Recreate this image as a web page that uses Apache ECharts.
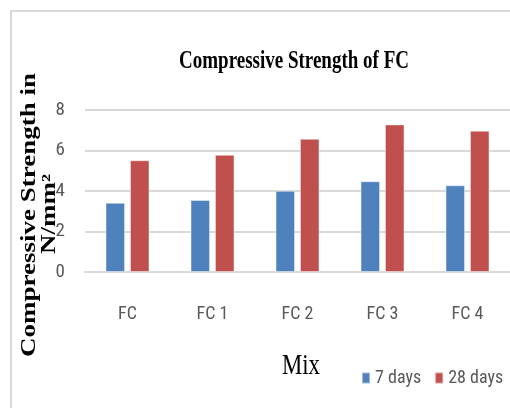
<!DOCTYPE html>
<html>
<head>
<meta charset="utf-8">
<script src="https://cdn.jsdelivr.net/npm/echarts@6/dist/echarts.min.js"></script>
<style>html,body{margin:0;padding:0;background:#fff;}#c{width:510px;height:408px;}</style>
</head>
<body>
<div id="c"></div>
<script>
const categories = ['FC', 'FC 1', 'FC 2', 'FC 3', 'FC 4'];
const days7 = [3.42, 3.56, 4.01, 4.48, 4.28];
const days28 = [5.52, 5.79, 6.58, 7.29, 6.98];
const seriesNames = ['7 days', '28 days'];
const yTicks = { min: 0, max: 8, interval: 2 };
const titleText = 'Compressive Strength of FC';
const yNameLine1 = 'Compressive Strength in';
const yNameLine2 = 'N/mm\u00B2';
const xName = 'Mix';

const narrow = "'Roboto Condensed', Roboto, sans-serif";
const serif = "'Liberation Serif', 'Times New Roman', serif";
const chart = echarts.init(document.getElementById('c'), null, { renderer: 'canvas' });
chart.setOption({
  animation: false,
  backgroundColor: '#fff',
  grid: { left: 85, right: 0, top: 110, bottom: 136, containLabel: false },
  legend: {
    data: seriesNames,
    left: 361, top: 369, width: 170, padding: 0,
    itemWidth: 8, itemHeight: 11, itemGap: 13,
    icon: 'rect',
    textStyle: { fontFamily: narrow, fontSize: 18, color: '#595959' }
  },
  xAxis: {
    type: 'category',
    data: categories,
    axisLine: { show: true, lineStyle: { color: '#d9d9d9', width: 2 } },
    axisTick: { show: false },
    axisLabel: { margin: 33, fontFamily: narrow, fontSize: 18, color: '#595959' }
  },
  yAxis: {
    type: 'value',
    min: yTicks.min, max: yTicks.max, interval: yTicks.interval,
    axisLine: { show: false },
    axisTick: { show: false },
    splitLine: { lineStyle: { color: '#d9d9d9', width: 2 } },
    axisLabel: { margin: 20, fontFamily: narrow, fontSize: 19, color: '#595959' }
  },
  series: [
    { name: seriesNames[0], type: 'bar', data: days7, barWidth: '23%', barGap: '25%',
      itemStyle: { color: '#4f81bd', borderColor: 'rgba(255,255,255,0.45)', borderWidth: 1 } },
    { name: seriesNames[1], type: 'bar', data: days28, barWidth: '23%', barGap: '25%',
      itemStyle: { color: '#c0504d', borderColor: 'rgba(255,255,255,0.45)', borderWidth: 1 } }
  ],
  graphic: [
    { type: 'rect', shape: { x: 11, y: 11, width: 700, height: 600 }, silent: true, z: -10,
      style: { fill: null, stroke: '#d9d9d9', lineWidth: 2 } },
    { type: 'text', x: 294, y: 62, scaleX: 0.76,
      style: { text: titleText, font: "bold 25px " + serif, fill: '#000', align: 'center', verticalAlign: 'middle' } },
    { type: 'text', x: 30, y: 215, rotation: Math.PI / 2, scaleY: 0.75,
      style: { text: yNameLine1, font: "bold 27px " + serif, fill: '#000', align: 'center', verticalAlign: 'middle' } },
    { type: 'text', x: 50, y: 214, rotation: Math.PI / 2, scaleY: 0.75,
      style: { text: yNameLine2, font: "bold 27px " + serif, fill: '#000', align: 'center', verticalAlign: 'middle' } },
    { type: 'text', x: 301, y: 366, scaleX: 0.76,
      style: { text: xName, font: "30px " + serif, fill: '#000', align: 'center', verticalAlign: 'middle' } }
  ]
});
</script>
</body>
</html>
